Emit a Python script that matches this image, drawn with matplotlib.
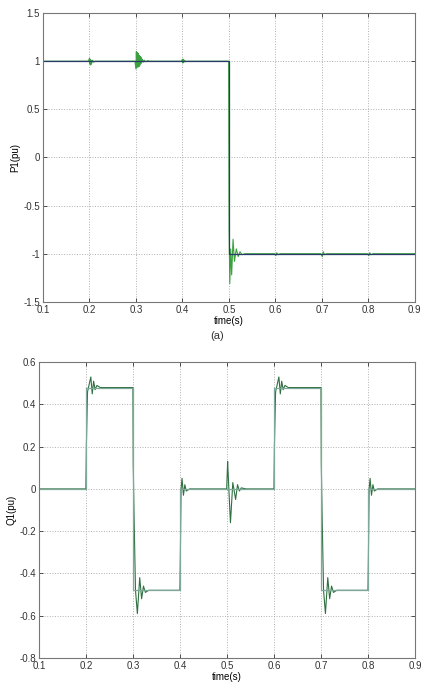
import matplotlib
matplotlib.use("Agg")
import matplotlib.pyplot as plt

plt.rcParams['font.family'] = ['Liberation Sans', 'DejaVu Sans']

# ---- P1 (active power), top plot ----
# reference step (blue)
p1_ref_t = [0.1, 0.5, 0.5, 0.9]
p1_ref = [1.0, 1.0, -1.0, -1.0]

# measured response (green) with transients
p1_t = [0.1, 0.198, 0.200, 0.201, 0.202, 0.203, 0.204, 0.205, 0.207, 0.209, 0.212, 0.22,
        0.298, 0.300, 0.301, 0.302, 0.303, 0.304, 0.305, 0.306, 0.307, 0.308, 0.309,
        0.310, 0.311, 0.312, 0.314, 0.316, 0.318, 0.321, 0.325, 0.33, 0.34,
        0.398, 0.400, 0.401, 0.402, 0.403, 0.405, 0.407, 0.41, 0.42,
        0.4995, 0.5005, 0.502, 0.504, 0.506, 0.509, 0.512, 0.516, 0.520, 0.524, 0.528,
        0.535, 0.55,
        0.598, 0.601, 0.603, 0.606, 0.61,
        0.698, 0.701, 0.703, 0.706, 0.71,
        0.798, 0.801, 0.803, 0.806, 0.81, 0.9]
p1 = [1.0, 1.0, 1.03, 0.97, 1.02, 0.96, 1.01, 0.98, 1.01, 0.99, 1.0, 1.0,
      1.0, 0.92, 1.10, 0.93, 1.09, 0.95, 1.08, 0.94, 1.06, 0.95, 1.05,
      0.97, 1.04, 0.98, 1.02, 0.99, 1.01, 0.995, 1.005, 1.0, 1.0,
      1.0, 1.02, 0.98, 1.02, 0.99, 1.01, 0.995, 1.0, 1.0,
      1.0, -0.75, -1.31, -0.95, -1.22, -0.85, -1.08, -0.95, -1.03, -0.98, -1.01,
      -1.0, -1.0,
      -1.0, -1.02, -0.99, -1.01, -1.0,
      -1.0, -1.03, -0.98, -1.01, -1.0,
      -1.0, -1.02, -0.99, -1.01, -1.0, -1.0]

# ---- Q1 (reactive power), bottom plot ----
q1_ref_t = [0.1, 0.2, 0.2, 0.3, 0.3, 0.4, 0.4, 0.6, 0.6, 0.7, 0.7, 0.8, 0.8, 0.9]
q1_ref = [0.0, 0.0, 0.48, 0.48, -0.48, -0.48, 0.0, 0.0, 0.48, 0.48, -0.48, -0.48, 0.0, 0.0]

q1_t = [0.1, 0.1995, 0.2005, 0.203, 0.206, 0.210, 0.213, 0.216, 0.219, 0.223, 0.23,
        0.2995, 0.3002, 0.302, 0.305, 0.309, 0.314, 0.318, 0.322, 0.326, 0.333,
        0.3995, 0.4005, 0.402, 0.404, 0.407, 0.410, 0.413, 0.42,
        0.499, 0.501, 0.502, 0.504, 0.507, 0.512, 0.518, 0.522, 0.526, 0.53, 0.54,
        0.5995, 0.6005, 0.603, 0.606, 0.610, 0.613, 0.616, 0.619, 0.623, 0.63,
        0.6995, 0.7002, 0.702, 0.705, 0.709, 0.714, 0.718, 0.722, 0.726, 0.733,
        0.7995, 0.8005, 0.802, 0.804, 0.807, 0.810, 0.813, 0.82, 0.9]
q1 = [0.0, 0.0, 0.2, 0.46, 0.49, 0.53, 0.45, 0.51, 0.47, 0.49, 0.48,
      0.48, 0.12, -0.13, -0.48, -0.59, -0.42, -0.52, -0.46, -0.49, -0.48,
      -0.48, -0.3, 0.0, 0.05, -0.03, 0.02, -0.01, 0.0,
      0.0, 0.13, 0.08, -0.02, -0.16, 0.03, -0.05, 0.02, -0.01, 0.005, 0.0,
      0.0, 0.2, 0.46, 0.49, 0.53, 0.45, 0.51, 0.47, 0.49, 0.48,
      0.48, 0.12, -0.13, -0.48, -0.59, -0.42, -0.52, -0.46, -0.49, -0.48,
      -0.48, -0.3, 0.0, 0.05, -0.03, 0.02, -0.01, 0.0, 0.0]

fig = plt.figure(figsize=(4.25, 6.86), dpi=100)

ax1 = fig.add_axes([0.101, 0.560, 0.875, 0.421])
ax2 = fig.add_axes([0.092, 0.041, 0.885, 0.431])

ax1.plot(p1_t, p1, color='#3aa040', lw=0.8)
ax1.plot(p1_ref_t, p1_ref, color='#2a3a6a', lw=0.9)
ax1.set_xlim(0.1, 0.9)
ax1.set_ylim(-1.5, 1.5)
ax1.set_xticks([0.1, 0.2, 0.3, 0.4, 0.5, 0.6, 0.7, 0.8, 0.9])
ax1.set_yticks([-1.5, -1, -0.5, 0, 0.5, 1, 1.5])
ax1.set_yticklabels(['-1.5', '-1', '-0.5', '0', '0.5', '1', '1.5'])
ax1.set_ylabel('P1(pu)', fontsize=7, labelpad=2)
ax1.set_xlabel('time(s)', fontsize=7, labelpad=1)

ax2.plot(q1_t, q1, color='#2f7040', lw=0.8)
ax2.plot(q1_ref_t, q1_ref, color='#7fa89c', lw=0.9)
ax2.set_xlim(0.1, 0.9)
ax2.set_ylim(-0.8, 0.6)
ax2.set_xticks([0.1, 0.2, 0.3, 0.4, 0.5, 0.6, 0.7, 0.8, 0.9])
ax2.set_yticks([-0.8, -0.6, -0.4, -0.2, 0, 0.2, 0.4, 0.6])
ax2.set_yticklabels(['-0.8', '-0.6', '-0.4', '-0.2', '0', '0.2', '0.4', '0.6'])
ax2.set_ylabel('Q1(pu)', fontsize=7, labelpad=2)
ax2.set_xlabel('time(s)', fontsize=7, labelpad=1)

for ax in (ax1, ax2):
    ax.grid(True, color='#b0b0b0', linestyle=':', linewidth=0.7)
    ax.tick_params(direction='in', top=True, right=True, length=3, width=0.6,
                   labelsize=7, colors='#333333', pad=2)
    for s in ax.spines.values():
        s.set_color('#777777')
        s.set_linewidth(0.8)

fig.text(0.51, 0.51, '(a)', ha='center', va='center', fontsize=8, color='#333333')

fig.savefig('out.png', dpi=100)
